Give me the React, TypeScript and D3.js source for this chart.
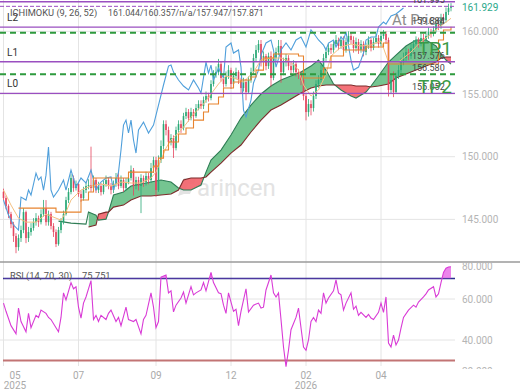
import React from 'react';
import * as d3 from 'd3';

// ---------- DATA ----------
const firstOpen = 147.2;
const closes = [
  146.70,146.06,145.42,144.62,143.67,142.79,143.51,144.15,145.58,143.51,
  143.99,144.31,144.78,145.10,144.78,145.42,145.90,144.78,145.42,144.47,
  143.99,143.03,144.15,144.78,145.42,146.54,147.18,148.30,147.50,147.82,
  147.02,146.70,147.34,147.66,147.74,147.50,148.14,147.34,147.66,147.18,
  147.82,148.14,147.66,147.34,147.82,148.30,147.66,148.14,147.50,147.98,
  148.30,148.93,147.66,148.14,147.66,148.30,147.98,148.46,148.14,149.09,
  149.73,147.34,149.73,150.85,152.60,152.13,151.17,151.49,150.69,152.13,
  152.60,152.29,153.24,153.56,153.08,153.56,153.24,153.88,154.20,154.04,
  154.52,154.84,154.68,155.80,156.59,156.75,157.39,156.28,155.80,156.44,
  156.91,155.80,156.44,156.75,156.12,155.48,155.96,155.16,156.12,156.75,
  157.87,158.51,158.99,157.55,158.03,157.23,158.03,156.28,157.87,158.35,
  158.83,156.75,157.55,157.87,157.23,156.91,157.39,156.75,156.59,156.12,
  154.84,153.56,154.20,153.88,154.84,155.80,156.12,156.91,157.87,158.35,
  158.67,158.51,158.99,159.31,158.83,159.31,158.51,159.15,159.63,159.31,
  158.67,159.15,158.51,158.99,158.35,158.83,159.31,158.67,159.15,159.47,
  158.99,159.63,159.79,159.31,155.32,156.12,155.16,156.44,156.91,157.55,
  157.87,158.35,158.03,158.67,158.99,159.31,158.99,159.47,159.31,159.63,
  159.95,159.79,160.11,160.58,160.43,161.06,160.90,161.54,161.86,161.93,
];
const highs = [
  147.45,146.90,146.20,145.60,144.80,143.90,143.80,144.50,145.90,145.70,
  144.40,144.70,145.10,145.50,145.30,145.80,146.55,146.54,145.70,145.60,
  144.70,144.20,144.40,145.10,145.70,146.80,147.50,148.60,148.50,148.10,
  148.00,147.30,147.60,148.00,148.20,150.80,148.50,148.30,148.00,147.90,
  148.10,148.50,148.30,147.90,148.10,148.70,148.90,148.50,148.30,148.30,
  148.60,149.30,149.10,148.40,148.40,148.60,148.50,148.80,148.70,149.50,
  150.00,150.00,150.10,151.30,152.90,152.90,152.40,151.80,151.70,152.40,
  152.90,152.90,153.50,153.90,153.80,153.90,153.80,154.20,154.50,154.50,
  154.80,155.20,155.10,156.10,156.90,157.20,157.80,157.60,156.60,156.80,
  157.30,157.10,156.80,157.10,156.90,156.30,156.30,156.20,156.40,157.10,
  158.20,158.90,159.30,159.31,158.40,158.20,158.30,158.40,158.20,158.70,
  159.31,159.31,157.90,158.20,158.10,157.50,157.70,157.60,157.00,156.80,
  156.30,155.00,154.60,154.50,155.20,156.10,156.50,157.30,158.20,158.70,
  159.00,159.00,159.30,159.70,159.50,159.60,159.60,159.50,160.00,159.90,
  159.60,159.50,159.40,159.30,159.20,159.10,159.60,159.50,159.50,159.80,
  159.70,159.90,160.11,160.00,159.50,156.50,156.80,156.70,157.30,157.90,
  158.30,158.70,158.60,159.00,159.30,159.60,159.50,159.80,159.80,160.00,
  160.30,160.20,160.40,160.90,160.90,161.40,161.40,161.90,162.20,162.25,
];
const lows = [
  146.50,145.80,145.10,144.30,143.20,142.30,142.50,143.20,143.90,143.10,
  143.20,143.70,144.10,144.50,144.40,144.60,145.20,144.50,144.50,144.20,
  143.60,142.79,142.90,143.90,144.60,145.30,146.30,147.00,147.20,147.30,
  146.80,146.40,146.50,147.10,147.40,147.20,147.30,147.10,147.10,146.90,
  147.00,147.60,147.40,147.00,147.10,147.60,147.40,147.50,147.20,147.30,
  147.80,148.10,146.90,147.40,147.30,145.50,147.60,147.70,147.80,147.90,
  148.70,146.80,147.20,149.50,150.60,151.70,150.80,150.90,149.90,150.50,
  151.90,151.90,152.10,153.00,152.80,152.90,152.90,153.10,153.70,153.80,
  153.80,154.30,154.40,154.50,155.60,156.30,156.50,156.00,155.50,155.60,
  156.20,155.40,155.50,156.20,155.80,155.00,155.20,154.50,155.00,155.90,
  156.60,157.60,158.30,157.20,157.30,156.90,157.00,155.60,156.10,157.60,
  158.10,155.90,156.50,157.20,156.90,156.50,156.70,156.40,156.20,155.70,
  154.50,152.90,153.20,153.30,153.60,154.60,155.50,155.90,156.70,157.60,
  158.10,158.20,158.30,158.80,158.50,158.60,158.20,158.30,158.90,159.00,
  158.30,158.40,158.20,158.30,158.00,158.10,158.60,158.40,158.50,159.00,
  158.70,158.80,159.40,159.00,154.80,155.00,154.75,155.00,156.20,156.70,
  157.30,157.60,157.70,157.80,158.40,158.70,158.70,158.80,159.00,159.10,
  159.40,159.50,159.60,159.90,160.10,160.20,160.60,160.70,161.30,161.60,
];

const tenkanIdx = [0,3,6,9,13,17,21,23,25,27,31,35,39,43,47,51,55,59,61,63,65,67,70,73,76,80,83,86,89,92,96,100,103,107,111,115,118,120,123,126,129,131,135,139,143,147,151,154,158,160,163,166,169,172,175,179];
const tenkanVal = [147.34,146.14,145.10,144.78,144.78,145.42,145.10,144.94,145.58,146.54,147.34,147.66,147.82,147.66,147.98,147.90,147.90,148.30,148.77,149.73,150.69,151.33,151.89,152.60,153.40,154.20,155.00,155.80,156.44,156.28,155.96,156.75,157.71,157.87,157.87,157.55,156.91,155.72,154.84,155.32,156.59,158.03,158.75,158.99,158.83,158.91,159.23,157.55,157.55,157.87,158.35,158.99,159.47,159.95,160.43,161.04];

const kijunIdx = [6,21,31,34,36,50,60,62,64,66,70,73,76,80,82,86,88,92,95,99,101,104,108,118,120,128,131,136,145,152,154,174,176,179];
const kijunVal = [145.90,145.58,146.54,147.18,148.30,148.77,149.25,149.89,150.53,151.17,151.81,152.29,152.92,153.56,154.20,154.76,155.48,155.96,156.12,156.36,156.91,157.87,158.19,158.03,156.28,157.07,158.03,158.51,158.75,159.07,157.39,159.31,160.11,160.36];

const chikouIdx = [0,2,4,6,7,9,10,11,13,14,15,16,17,18,19,20,22,24,25,27,29,31,33,35,37,39,41,43,44,46,47,48,49,50,51,52,53,54,56,58,60,62,64,66,67,68,70,72,74,76,78,79,81,82,83,84,86,88,89,91,92,94,95,96,97,99,100,102,103,105,107,108,109,111,113,115,117,119,121,123,124,126,128,129,130,132,133,135,136,137,139,140,142,144,145,147,149,150,152,153,155,157,159,160];
const chikouVal = [146.54,145.34,144.55,144.15,146.78,146.54,147.34,146.94,148.69,148.14,148.38,147.34,148.53,150.77,147.34,146.78,147.34,148.14,147.34,148.93,147.58,148.30,147.90,148.93,147.34,147.98,148.30,148.38,147.34,148.77,150.53,152.52,152.92,151.89,152.92,151.33,150.29,152.13,152.76,151.89,152.52,154.12,155.72,157.23,157.31,156.75,156.12,155.64,155.32,156.12,155.48,155.08,157.55,156.67,157.31,156.12,157.07,156.28,158.75,159.07,158.27,158.51,157.15,153.72,153.16,154.52,155.88,156.91,158.11,159.07,159.31,158.51,157.15,158.51,159.07,158.51,159.31,159.55,158.75,160.11,159.87,159.31,158.91,158.51,159.07,159.31,158.75,159.55,159.31,159.95,157.71,156.91,157.15,158.27,159.31,159.55,159.55,160.35,160.74,160.58,161.22,161.38,161.70,161.86];

const cloudIdx = [22,27,33,34,37,38,41,42,44,48,51,55,59,63,67,70,72,75,79,81,83,87,91,95,99,103,107,111,115,119,123,126,129,132,135,139,141,145,147,150,154,157,161,165,169,173,175,177,179];
const spanA = [144.86,144.70,144.62,145.58,145.34,144.94,145.02,145.58,146.94,147.18,147.66,147.82,147.98,148.14,147.98,147.50,147.34,147.34,147.74,148.77,149.73,150.53,151.73,153.08,154.12,155.00,155.64,156.12,156.44,156.75,157.23,157.71,156.91,155.80,155.32,154.84,154.68,155.16,155.64,156.44,157.55,158.11,158.83,159.31,159.31,158.83,158.19,157.71,157.39];
const spanB: (number | null)[] = [null,null,null,144.39,144.55,145.42,145.58,145.58,145.98,146.14,146.54,146.86,146.86,146.94,147.02,147.34,148.14,148.30,148.30,148.38,148.77,149.49,150.29,150.93,151.97,152.92,153.72,154.12,154.60,155.08,155.48,155.64,155.72,155.72,155.72,155.72,155.64,155.64,155.56,155.64,155.80,156.28,156.59,156.91,157.23,157.55,157.87,157.95,157.95];

const rsiIdx = [0,1,3,5,6,7,9,10,11,13,14,15,17,18,19,21,22,23,24,25,27,28,29,30,31,32,33,35,36,37,38,39,41,42,43,45,46,47,49,50,52,53,55,56,57,59,60,61,62,63,65,66,67,68,69,71,72,73,75,76,77,79,80,81,83,84,86,87,88,89,90,92,93,94,95,97,98,100,102,103,104,105,107,108,109,110,111,112,113,114,115,117,118,119,120,121,122,123,124,125,126,127,128,129,130,132,133,134,135,136,137,139,140,141,142,143,145,146,147,148,150,151,152,153,154,155,156,157,158,159,160,162,164,165,166,168,169,170,172,173,174,175,176,177,178,179];
const rsiVal = [58,54,47,43,55.6,49,44,53,46,52,51,54.6,53,51,50,46,44,51,63,59.5,68,65,66,56,50.7,58,61,69,50,52,49,52,50,53,54.6,49,51,47,56,50,49,50,43,50,52,63,56,46,49,70.7,71.7,63,64,53.7,57,60.5,63.4,58,66,62,63,64.4,68,64,73,68,63,62.6,57,53,63,54,55,47,54,65,53.6,57,58,55.6,56,64.4,71.7,63,61,63,50,36.6,27,35,45,51,55.6,46,36.6,35,40,49,51,49,54.6,53,63,58,60.5,64,69.3,63,62,54.6,58,63,55,56.5,52,53.5,51,52.5,50.7,50,53.5,58,53.5,61,38.5,36.6,42.4,37.6,40,45.8,51,54.6,57,56,58.5,61,62.5,64.4,66,61,62.5,68,73,75,75.6,75.75];

const priceTicks = [145, 150, 155, 160];
const rsiTicks = [80, 60, 40, 20];
const monthTickIdx = [0, 30, 61, 91, 121, 151];
const monthLabels = ['05', '07', '09', '12', '02', '04'];
const yearLabels = ['2025', '', '', '', '2026', ''];

const purpleLevels = [162.36, 160.33, 157.576, 155.052];
const dashedPurpleLevel = 161.995;
const greenLevels = [159.884, 156.58];
const levelNames = ['L2', 'L1', 'L0'];
const levelNamePrices = [160.33, 157.576, 155.052];
const levelValueLabels = ['161.995', '159.884', '157.576', '156.580', '155.052'];
const levelValuePrices = [161.995, 160.33, 157.576, 156.58, 155.052];
const lastPrice = 161.929;
const legendTitle = 'ICHIMOKU (9, 26, 52)';
const legendValues = '161.044/160.357/n/a/157.947/157.871';
const rsiTitle = 'RSI (14, 70, 30)';
const rsiLast = '75.751';

// ---------- CHART ----------
const W = 520, H = 390;
const PR = 455; // plot right
const MAIN_B = 262;
const RSI_B = 369;
const FONT = 'Roboto, "Noto Sans", sans-serif';

export default function App() {
  const x = d3.scaleLinear().domain([0, 179]).range([3.5, 451]);
  const y = d3.scaleLinear().domain([141.6, 162.5]).range([MAIN_B, 0]);
  const ry = d3.scaleLinear().domain([30, 70]).range([360.5, 278.5]);

  const opens = [firstOpen, ...closes.slice(0, -1)];

  const lineOf = (idx: number[], vals: number[], curve: any = d3.curveLinear) =>
    d3.line<number>().x((_, k) => x(idx[k])).y((v) => y(v)).curve(curve)(vals) || '';

  const cloudPts = cloudIdx.map((i, k) => ({ i, a: spanA[k], b: spanB[k] }));
  const fillPts = cloudPts.filter((p) => p.b != null) as { i: number; a: number; b: number }[];

  const belowA = d3.area<any>().x((p) => x(p.i)).y0(MAIN_B).y1((p) => y(p.a))(fillPts) || '';
  const belowB = d3.area<any>().x((p) => x(p.i)).y0(MAIN_B).y1((p) => y(p.b))(fillPts) || '';
  const aboveB = d3.area<any>().x((p) => x(p.i)).y0(0).y1((p) => y(p.b))(fillPts) || '';
  const aboveA = d3.area<any>().x((p) => x(p.i)).y0(0).y1((p) => y(p.a))(fillPts) || '';
  const spanALine = d3.line<any>().x((p) => x(p.i)).y((p) => y(p.a))(cloudPts) || '';
  const spanBLine = d3.line<any>().x((p) => x(p.i)).y((p) => y(p.b))(fillPts) || '';

  const rsiLine = d3.line<number>().x((_, k) => x(rsiIdx[k])).y((v) => ry(v))(rsiVal) || '';
  const rsiArea = d3.area<number>().x((_, k) => x(rsiIdx[k])).y0(ry(70)).y1((v) => ry(v))(rsiVal) || '';

  const up = '#2aa876';
  const down = '#e4455e';
  const bw = 1.6;

  return (
    <div style={{ position: 'fixed', left: 0, top: 0, width: W, height: H, background: '#fff' }}>
      <svg width={W} height={H} style={{ display: 'block', fontFamily: FONT }}>
        <defs>
          <clipPath id="mainClip"><rect x={0} y={0} width={PR} height={MAIN_B} /></clipPath>
          <clipPath id="belowA"><path d={belowA} /></clipPath>
          <clipPath id="belowB"><path d={belowB} /></clipPath>
          <clipPath id="rsiAbove"><rect x={0} y={MAIN_B} width={PR} height={ry(70) - MAIN_B} /></clipPath>
          <clipPath id="rsiClip"><rect x={0} y={MAIN_B} width={W} height={RSI_B - MAIN_B} /></clipPath>
        </defs>
        <rect x={0} y={0} width={W} height={H} fill="#fff" />

        {/* grid */}
        {priceTicks.map((t) => (
          <line key={'pg' + t} x1={0} x2={PR} y1={y(t)} y2={y(t)} stroke="#e4e4e4" strokeWidth={1} />
        ))}
        {[60, 40].map((t) => (
          <line key={'rg' + t} x1={0} x2={PR} y1={ry(t)} y2={ry(t)} stroke="#e4e4e4" strokeWidth={1} />
        ))}
        {monthTickIdx.map((i) => (
          <line key={'vg' + i} x1={x(i)} x2={x(i)} y1={0} y2={RSI_B - 3} stroke="#e4e4e4" strokeWidth={1} />
        ))}

        {/* watermark */}
        <g fill="#e3e3e3">
          <path d="M178 196 L184 178 L196 178 L194 184 L188 184 L186 189 L192 189 L190 194 L184 194 Z" />
          <text x={197} y={196} fontSize={24} fontFamily={FONT}>arincen</text>
        </g>

        <g clipPath="url(#mainClip)">
          {/* cloud */}
          <path d={aboveB} fill="#5dbb7e" fillOpacity={0.85} clipPath="url(#belowA)" />
          <path d={aboveA} fill="#f2636a" fillOpacity={0.9} clipPath="url(#belowB)" />
          <path d={spanALine} fill="none" stroke="#2f7d55" strokeWidth={1.1} />
          <path d={spanBLine} fill="none" stroke="#7d2b2b" strokeWidth={1.1} />

          {/* candles */}
          {closes.map((c, i) => {
            const o = opens[i];
            const col = c >= o ? up : down;
            const top = y(Math.max(o, c));
            const bot = y(Math.min(o, c));
            return (
              <g key={'c' + i}>
                <line x1={x(i)} x2={x(i)} y1={y(highs[i])} y2={y(lows[i])} stroke={col} strokeWidth={0.8} />
                <rect x={x(i) - bw / 2} y={top} width={bw} height={Math.max(0.8, bot - top)} fill={col} />
              </g>
            );
          })}

          {/* ichimoku lines */}
          <path d={lineOf(chikouIdx, chikouVal)} fill="none" stroke="#4f9fdb" strokeWidth={1.1} />
          <path d={lineOf(tenkanIdx, tenkanVal)} fill="none" stroke="#f4bf80" strokeWidth={1} />
          <path d={lineOf(kijunIdx, kijunVal, d3.curveStepAfter)} fill="none" stroke="#e8842f" strokeWidth={1.1} />

          {/* levels */}
          {purpleLevels.map((p) => (
            <line key={'pl' + p} x1={0} x2={PR} y1={y(p)} y2={y(p)} stroke="#9a4fc0" strokeWidth={1.3} />
          ))}
          <line x1={0} x2={PR} y1={y(dashedPurpleLevel)} y2={y(dashedPurpleLevel)} stroke="#9a4fc0" strokeWidth={1} strokeDasharray="4,2" />
          {greenLevels.map((p) => (
            <line key={'gl' + p} x1={0} x2={PR} y1={y(p)} y2={y(p)} stroke="#2e9a3e" strokeWidth={2} strokeDasharray="6,4" />
          ))}
        </g>

        {/* level labels */}
        {levelNames.map((n, k) => (
          <text key={n} x={7} y={y(levelNamePrices[k]) - 6} fontSize={10} fill="#333">{n}</text>
        ))}
        <text x={392} y={y(159.884) - 8} fontSize={15} fill="#8c8c8c">At Price</text>
        {levelValueLabels.map((t, k) => (
          <text key={t} x={412} y={y(levelValuePrices[k]) - 3} fontSize={9} fill="#444">{t}</text>
        ))}
        <text x={418} y={y(157.576) - 7} fontSize={19} fill="#3a9a46">TP1</text>
        <text x={418} y={y(155.052) + 0} fontSize={19} fill="#3a9a46">TP2</text>

        {/* legend */}
        <text x={10} y={16} fontSize={9.3} fill="#555">{legendTitle}</text>
        <text x={108} y={16} fontSize={8.8} fill="#555">{legendValues}</text>

        {/* right axis */}
        {priceTicks.map((t) => (
          <text key={'pt' + t} x={462} y={y(t)} dy="0.35em" fontSize={10} fill="#b5b5b5">{d3.format('.3f')(t)}</text>
        ))}
        <text x={462} y={y(lastPrice)} dy="0.35em" fontSize={10} fill="#2aa88a">{d3.format('.3f')(lastPrice)}</text>

        {/* panel separator */}
        <line x1={0} x2={W} y1={MAIN_B} y2={MAIN_B} stroke="#9a9a9a" strokeWidth={1.3} />

        {/* RSI */}
        <line x1={3} x2={PR} y1={ry(70)} y2={ry(70)} stroke="#2b2f8f" strokeWidth={1.3} />
        <line x1={3} x2={PR} y1={ry(30)} y2={ry(30)} stroke="#c27474" strokeWidth={2.2} />
        <path d={rsiArea} fill="#e45ce4" fillOpacity={0.75} clipPath="url(#rsiAbove)" />
        <path d={rsiLine} fill="none" stroke="#d93bd6" strokeWidth={1.1} />
        <text x={10} y={279} fontSize={9.3} fill="#555">{rsiTitle}</text>
        <text x={82} y={279} fontSize={9.3} fill="#555">{rsiLast}</text>
        <g clipPath="url(#rsiClip)">
          {rsiTicks.map((t) => (
            <text key={'rt' + t} x={462} y={Math.min(Math.max(ry(t), 266), 371)} dy="0.35em" fontSize={10} fill="#b5b5b5">
              {d3.format('.3f')(t)}
            </text>
          ))}
        </g>

        {/* x axis */}
        {monthTickIdx.map((i, k) => (
          <g key={'xl' + i}>
            <text x={Math.max(x(i), 15)} y={379} textAnchor="middle" fontSize={10} fill="#aaa">{monthLabels[k]}</text>
            {yearLabels[k] && (
              <text x={Math.max(x(i), 15)} y={389} textAnchor="middle" fontSize={10} fill="#aaa">{yearLabels[k]}</text>
            )}
          </g>
        ))}
      </svg>
    </div>
  );
}
